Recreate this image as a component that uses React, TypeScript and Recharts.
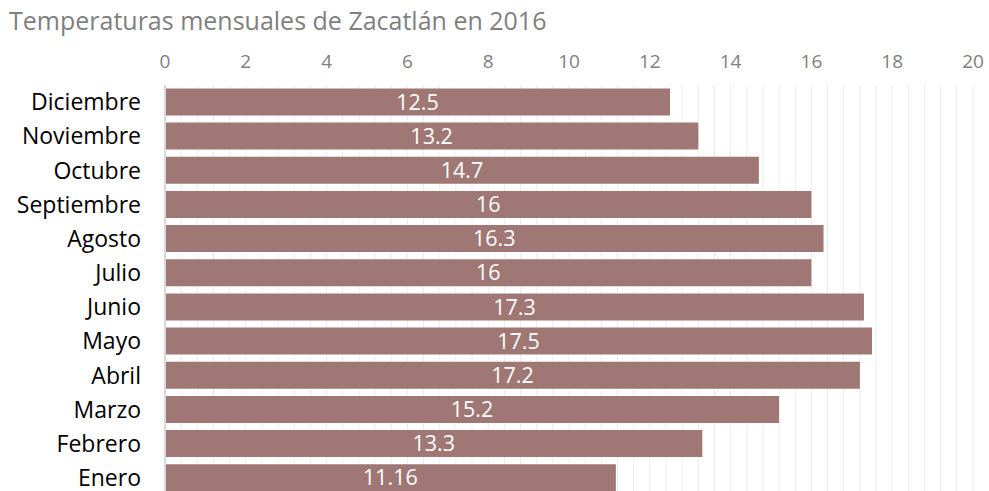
import { Bar, BarChart, CartesianGrid, LabelList, XAxis, YAxis } from "recharts";

const months = [
  "Diciembre",
  "Noviembre",
  "Octubre",
  "Septiembre",
  "Agosto",
  "Julio",
  "Junio",
  "Mayo",
  "Abril",
  "Marzo",
  "Febrero",
  "Enero",
];
const temps = [12.5, 13.2, 14.7, 16, 16.3, 16, 17.3, 17.5, 17.2, 15.2, 13.3, 11.16];
const majorTicks = [0, 2, 4, 6, 8, 10, 12, 14, 16, 18, 20];

// excel draws minor gridlines every major/5
const gridTicks = Array.from({ length: 51 }, (_, i) => Math.round(i * 4) / 10);

const data = months.map((m, i) => ({ month: m, temp: temps[i] }));
const font = "'Open Sans', sans-serif";

export default function App() {
  return (
    <div
      style={{
        position: "fixed",
        top: 0,
        left: 0,
        width: 989,
        height: 491,
        overflow: "hidden",
        background: "#fff",
        fontFamily: font,
      }}
    >
      <div
        style={{
          position: "absolute",
          left: 9,
          top: 3,
          fontSize: 25,
          color: "#7f7f7f",
          whiteSpace: "nowrap",
        }}
      >
        Temperaturas mensuales de Zacatlán en 2016
      </div>
      <BarChart
        width={989}
        height={495}
        data={data}
        layout="vertical"
        margin={{ top: 45, right: 16, bottom: 0, left: 0 }}
        barCategoryGap="10%"
        style={{ position: "absolute", top: 0, left: 0 }}
      >
        <CartesianGrid horizontal={false} stroke="#ececec" />
        <XAxis
          type="number"
          orientation="top"
          domain={[0, 20]}
          ticks={gridTicks}
          interval={0}
          tickFormatter={(v: number) =>
            majorTicks.includes(Math.round(v * 10) / 10) ? String(v) : ""
          }
          height={40}
          axisLine={false}
          tickLine={false}
          tickSize={0}
          tickMargin={17}
          tick={{ fill: "#808080", fontSize: 19, fontFamily: font }}
        />
        <YAxis
          type="category"
          dataKey="month"
          width={165}
          axisLine={{ stroke: "#d9d9d9", strokeWidth: 2 }}
          tickLine={false}
          tickSize={0}
          tickMargin={24}
          tick={{ fill: "#000", fontSize: 23, fontFamily: font }}
        />
        <Bar dataKey="temp" fill="#9f7774" isAnimationActive={false}>
          <LabelList
            dataKey="temp"
            position="center"
            fill="#fff"
            fontSize={21.5}
            fontFamily={font}
          />
        </Bar>
      </BarChart>
    </div>
  );
}
